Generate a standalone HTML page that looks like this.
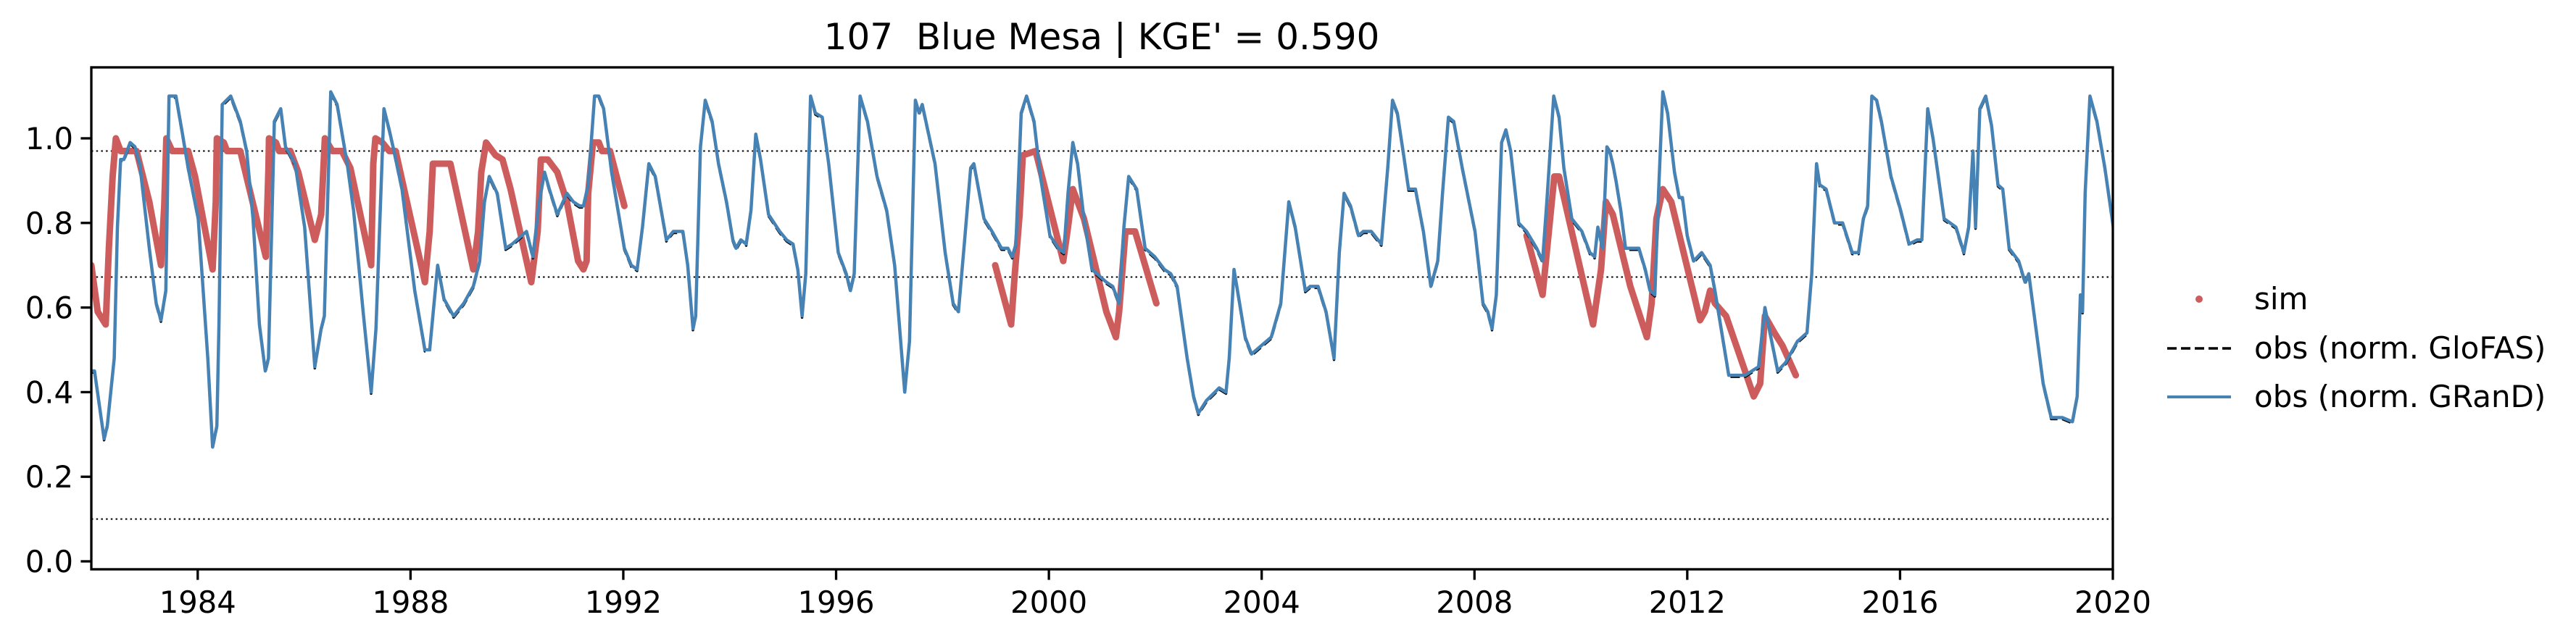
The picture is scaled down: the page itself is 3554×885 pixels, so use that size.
<!DOCTYPE html>
<html><head><meta charset="utf-8"><style>
html,body{margin:0;padding:0;background:#fff;}
svg{display:block;font-family:"DejaVu Sans","Liberation Sans",sans-serif;}
</style></head><body>
<svg id="chart" width="3554" height="885" viewBox="0 0 3554 885" xmlns="http://www.w3.org/2000/svg">
<rect x="0" y="0" width="3554" height="885" fill="#fff"/>
<text x="1520" y="68" font-size="50" text-anchor="middle">107&#160; Blue Mesa | KGE' = 0.590</text>
<g id="plot"></g>
<g>
<circle cx="3034" cy="413" r="5" fill="#cd5c5c"/>
<text x="3110" y="427" font-size="42">sim</text>
<line x1="2990" y1="481" x2="3078" y2="481" stroke="#000" stroke-width="3.5" stroke-dasharray="13,6"/>
<text x="3110" y="495" font-size="42">obs (norm. GloFAS)</text>
<line x1="2990" y1="548" x2="3078" y2="548" stroke="#4682b4" stroke-width="4"/>
<text x="3110" y="562" font-size="42">obs (norm. GRanD)</text>
</g>
</svg>
<script>
const obsYears=[1982.00,1982.06,1982.24,1982.30,1982.43,1982.49,1982.55,1982.61,1982.73,1982.82,1982.91,1983.09,1983.22,1983.31,1983.40,1983.46,1983.52,1983.59,1983.70,1983.82,1984.01,1984.19,1984.28,1984.36,1984.40,1984.46,1984.62,1984.80,1984.92,1985.04,1985.16,1985.27,1985.33,1985.44,1985.56,1985.65,1985.83,1986.01,1986.20,1986.32,1986.38,1986.50,1986.62,1986.81,1986.93,1987.11,1987.26,1987.35,1987.50,1987.60,1987.69,1987.84,1988.08,1988.27,1988.36,1988.51,1988.63,1988.81,1989.00,1989.18,1989.30,1989.39,1989.48,1989.63,1989.79,1989.91,1990.18,1990.30,1990.42,1990.52,1990.61,1990.76,1990.94,1991.06,1991.18,1991.25,1991.34,1991.46,
1991.54,1991.63,1991.78,1991.90,1992.02,1992.15,1992.26,1992.36,1992.48,1992.60,1992.81,1992.94,1993.12,1993.21,1993.31,1993.36,1993.45,1993.54,1993.67,1993.79,1993.94,1994.06,1994.12,1994.21,1994.31,1994.40,1994.49,1994.58,1994.73,1994.94,1995.07,1995.19,1995.28,1995.36,1995.43,1995.52,1995.61,1995.74,1995.86,1996.04,1996.19,1996.27,1996.34,1996.45,1996.59,1996.77,1996.95,1997.10,1997.29,1997.38,1997.49,1997.56,1997.62,1997.74,1997.86,1998.05,1998.20,1998.30,1998.41,1998.53,1998.59,1998.78,1998.93,1999.11,1999.23,1999.31,1999.38,1999.48,1999.58,1999.72,1999.84,2000.02,2000.18,2000.28,2000.36,2000.45,2000.54,2000.66,2000.81,2001.08,
2001.20,2001.32,2001.41,2001.50,2001.65,2001.81,2001.99,2002.17,2002.29,2002.41,2002.60,2002.72,2002.81,2002.96,2003.20,2003.33,2003.39,2003.48,2003.69,2003.81,2004.18,2004.36,2004.51,2004.63,2004.82,2004.91,2005.06,2005.21,2005.36,2005.46,2005.55,2005.67,2005.82,2005.91,2006.06,2006.25,2006.37,2006.46,2006.55,2006.67,2006.76,2006.89,2007.04,2007.18,2007.31,2007.40,2007.51,2007.61,2007.77,2008.01,2008.16,2008.25,2008.33,2008.41,2008.51,2008.59,2008.68,2008.83,2008.98,2009.17,2009.28,2009.36,2009.49,2009.59,2009.68,2009.83,2010.02,2010.17,2010.26,2010.32,2010.41,2010.49,
2010.54,2010.60,2010.66,2010.75,2010.84,2011.09,2011.21,2011.30,2011.39,2011.46,2011.54,2011.63,2011.76,2011.85,2011.91,2012.00,2012.12,2012.27,2012.43,2012.52,2012.78,2013.09,2013.34,2013.46,2013.70,2013.85,2014.07,2014.25,2014.34,2014.43,2014.49,2014.61,2014.77,2014.92,2015.10,2015.22,2015.31,2015.39,2015.47,2015.56,2015.65,2015.83,2016.01,2016.17,2016.32,2016.41,2016.52,2016.62,2016.83,2017.05,2017.20,2017.29,2017.37,2017.42,2017.50,2017.61,2017.72,2017.84,2017.93,2018.05,2018.23,2018.35,2018.42,2018.69,2018.84,2019.05,2019.24,2019.33,2019.39,2019.43,2019.48,2019.57,2019.70,2019.85,2020.02];
const obsValues=[0.45,0.45,0.29,0.32,0.48,0.79,0.95,0.95,0.99,0.98,0.94,0.74,0.61,0.57,0.64,1.10,1.10,1.10,1.02,0.93,0.81,0.48,0.27,0.32,0.56,1.08,1.10,1.04,0.97,0.81,0.56,0.45,0.48,1.04,1.07,0.98,0.94,0.79,0.46,0.55,0.58,1.11,1.08,0.94,0.83,0.59,0.40,0.55,1.07,1.02,0.97,0.88,0.64,0.50,0.50,0.70,0.62,0.58,0.61,0.65,0.71,0.85,0.91,0.87,0.74,0.75,0.78,0.72,0.85,0.92,0.88,0.82,0.87,0.85,0.84,0.84,0.89,1.10,
1.10,1.07,0.92,0.83,0.74,0.70,0.69,0.79,0.94,0.91,0.76,0.78,0.78,0.70,0.55,0.58,0.98,1.09,1.04,0.94,0.85,0.76,0.74,0.76,0.75,0.83,1.01,0.95,0.82,0.78,0.76,0.75,0.69,0.58,0.68,1.10,1.06,1.05,0.94,0.73,0.68,0.64,0.68,1.10,1.04,0.91,0.83,0.70,0.40,0.52,1.09,1.06,1.08,1.01,0.94,0.73,0.61,0.59,0.75,0.93,0.94,0.81,0.78,0.74,0.74,0.72,0.75,1.06,1.10,1.04,0.91,0.77,0.74,0.73,0.87,0.99,0.94,0.81,0.69,0.66,
0.65,0.61,0.79,0.91,0.88,0.74,0.72,0.69,0.68,0.65,0.48,0.39,0.35,0.38,0.41,0.40,0.48,0.69,0.53,0.49,0.53,0.61,0.85,0.79,0.64,0.65,0.65,0.59,0.48,0.73,0.87,0.84,0.77,0.78,0.78,0.75,0.93,1.09,1.06,0.96,0.88,0.88,0.78,0.65,0.71,0.87,1.05,1.04,0.93,0.78,0.61,0.59,0.55,0.63,0.99,1.02,0.97,0.80,0.78,0.74,0.71,0.85,1.10,1.05,0.93,0.81,0.78,0.73,0.72,0.79,0.74,0.98,
0.97,0.94,0.90,0.83,0.74,0.74,0.69,0.64,0.63,0.87,1.11,1.06,0.92,0.86,0.86,0.77,0.71,0.73,0.70,0.64,0.44,0.44,0.46,0.60,0.45,0.47,0.52,0.54,0.68,0.94,0.89,0.88,0.80,0.80,0.73,0.73,0.81,0.84,1.10,1.09,1.04,0.91,0.83,0.75,0.76,0.76,1.07,1.00,0.81,0.79,0.73,0.79,0.97,0.79,1.07,1.10,1.03,0.89,0.88,0.74,0.71,0.66,0.68,0.42,0.34,0.34,0.33,0.39,0.63,0.59,0.87,1.10,1.04,0.93,0.78];
const simYears=[1982.00,1982.12,1982.27,1982.33,1982.40,1982.46,1982.55,1982.85,1983.09,1983.31,1983.37,1983.41,1983.52,1983.82,1983.95,1984.28,1984.34,1984.36,1984.49,1984.55,1984.80,1985.28,1985.33,1985.34,1985.47,1985.53,1985.74,1985.89,1986.20,1986.32,1986.39,1986.53,1986.71,1986.87,1987.26,1987.30,1987.34,1987.47,1987.60,1987.72,1988.27,1988.36,1988.42,1988.57,1988.75,1989.18,1989.27,1989.33,1989.42,1989.60,1989.73,1989.88,1990.27,1990.39,1990.45,1990.58,1990.76,1990.94,1991.15,1991.25,1991.31,1991.34,1991.43,1991.54,1991.60,1991.75,1992.02,null,
1998.99,1999.29,1999.36,1999.45,1999.51,1999.75,2000.27,2000.36,2000.45,2000.66,2001.08,2001.26,2001.32,2001.44,2001.62,2002.02,null,
2008.98,2009.28,2009.50,2009.59,2010.23,2010.38,2010.47,2010.60,2010.93,2011.24,2011.33,2011.42,2011.54,2011.70,2012.24,2012.33,2012.43,2012.52,2012.73,2013.25,2013.37,2013.46,2013.64,2013.79,2014.04];
const simValues=[0.70,0.59,0.56,0.74,0.91,1.00,0.97,0.97,0.85,0.70,0.84,1.00,0.97,0.97,0.91,0.69,0.85,1.00,0.99,0.97,0.97,0.72,0.93,1.00,0.99,0.97,0.97,0.92,0.76,0.82,1.00,0.97,0.97,0.93,0.70,0.94,1.00,0.99,0.97,0.97,0.66,0.78,0.94,0.94,0.94,0.69,0.78,0.92,0.99,0.96,0.95,0.88,0.66,0.78,0.95,0.95,0.92,0.85,0.71,0.69,0.71,0.87,0.99,0.99,0.97,0.97,0.84,null,
0.70,0.56,0.68,0.82,0.96,0.97,0.71,0.79,0.88,0.81,0.59,0.53,0.59,0.78,0.78,0.61,null,
0.77,0.63,0.91,0.91,0.56,0.69,0.85,0.82,0.65,0.53,0.61,0.81,0.88,0.85,0.57,0.59,0.64,0.61,0.58,0.39,0.42,0.58,0.54,0.51,0.44];
const xTickYears=[1984,1988,1992,1996,2000,2004,2008,2012,2016,2020];
const yTickValues=[0.0,0.2,0.4,0.6,0.8,1.0];
const yTickLabels=["0.0","0.2","0.4","0.6","0.8","1.0"];
const refLevels=[0.97,0.672,0.1];

const L=126,R=2915,T=93,B=786;
const X0=1982,X1=2020,Y0=-0.0188,Y1=1.1678;
const sx=v=>L+(v-X0)/(X1-X0)*(R-L);
const sy=v=>B-(v-Y0)/(Y1-Y0)*(B-T);
const NS="http://www.w3.org/2000/svg";
const plot=document.getElementById('plot');
function mk(tag,attrs,parent){const e=document.createElementNS(NS,tag);for(const k in attrs)e.setAttribute(k,attrs[k]);(parent||plot).appendChild(e);return e;}

const clip=mk('clipPath',{id:'clipArea'});
mk('rect',{x:L,y:T,width:R-L,height:B-T},clip);
const area=mk('g',{'clip-path':'url(#clipArea)'});



refLevels.forEach(v=>{
  const ln=mk('line',{x1:L,x2:R,y1:sy(v),y2:sy(v),stroke:'#000','stroke-width':2,'stroke-dasharray':'2.5,4.2'},area);
  
  
});

function pathFrom(xs,ys,dy){let d='',pen=false;for(let i=0;i<xs.length;i++){if(xs[i]===null){pen=false;continue;}d+=(pen?'L':'M')+sx(xs[i]).toFixed(1)+','+(sy(ys[i])+(dy||0)).toFixed(1);pen=true;}return d;}

const sim=mk('path',{d:pathFrom(simYears,simValues),fill:'none',stroke:'#cd5c5c','stroke-width':9,'stroke-linejoin':'round','stroke-linecap':'round'},area);



const glo=mk('path',{d:pathFrom(obsYears,obsValues,2),fill:'none',stroke:'#000','stroke-width':3.5,'stroke-dasharray':'13,6','stroke-linejoin':'round'},area);



const grand=mk('path',{d:pathFrom(obsYears,obsValues),fill:'none',stroke:'#4682b4','stroke-width':4.5,'stroke-linejoin':'round'},area);



const frame=mk('rect',{x:L,y:T,width:R-L,height:B-T,fill:'none',stroke:'#000','stroke-width':3.3});



xTickYears.forEach(y=>{
  const x=sx(y);
  const t=mk('line',{x1:x,x2:x,y1:B,y2:B+14.6,stroke:'#000','stroke-width':3.3});
  
  
  const lb=mk('text',{x:x,y:846,'font-size':41.7,'text-anchor':'middle'});
  lb.textContent=String(y);
  
  
});
yTickValues.forEach((v,i)=>{
  const y=sy(v);
  const t=mk('line',{x1:L-14.6,x2:L,y1:y,y2:y,stroke:'#000','stroke-width':3.3});
  
  
  const lb=mk('text',{x:L-25,y:y+15,'font-size':41.7,'text-anchor':'end'});
  lb.textContent=yTickLabels[i];
  
  
});
</script>
</body></html>
